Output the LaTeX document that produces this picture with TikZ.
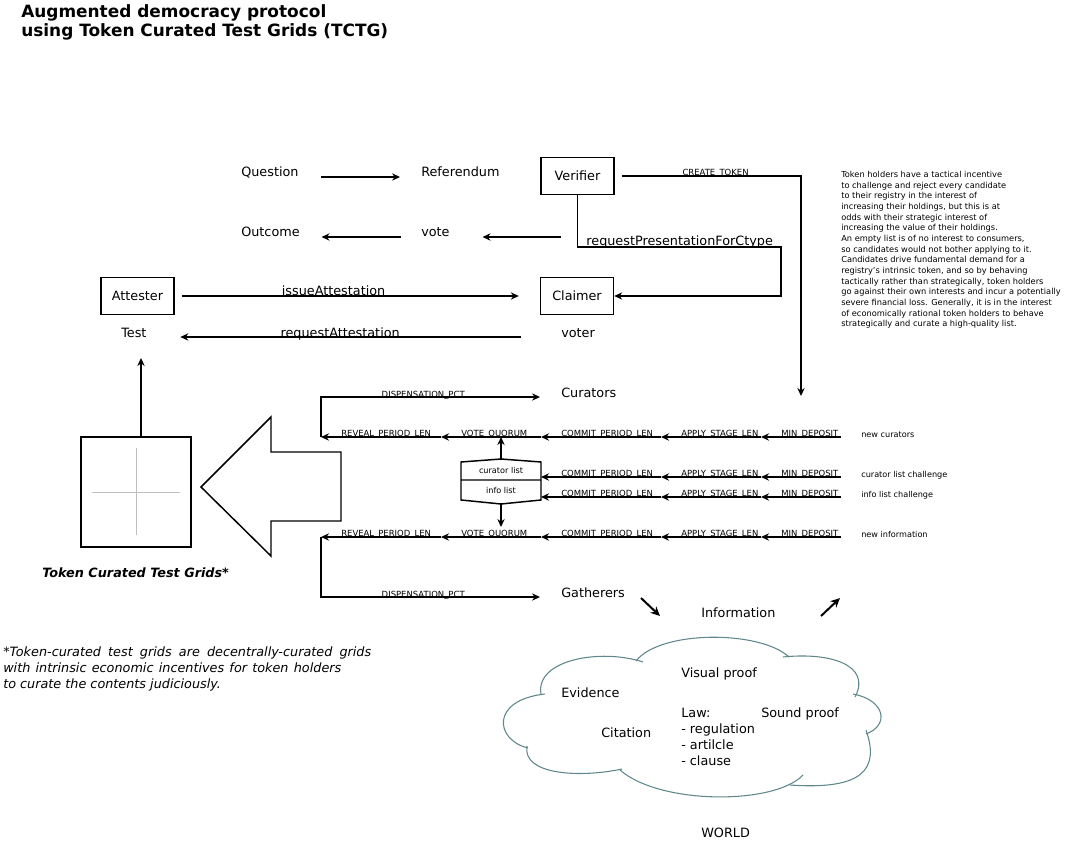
\documentclass[tikz,border=0pt]{standalone}
\usepackage{fontspec}
\setmainfont{DejaVu Sans}
\usetikzlibrary{arrows.meta}

\definecolor{cloudline}{RGB}{95,135,140}

\tikzset{
  lbl/.style={inner sep=0pt, font=\fontsize{9.6}{12}\selectfont},
  param/.style={inner sep=0pt, font=\fontsize{6.35}{7.5}\selectfont},
  note/.style={inner sep=0pt, font=\fontsize{6.1}{8}\selectfont},
  actor/.style={draw, line width=1.1pt, lbl, minimum width=54.75pt, minimum height=27.75pt},
  wire/.style={line width=1.1pt},
  arr/.style={line width=1.1pt, -{Stealth[length=6pt,width=5.5pt,inset=2pt]}},
  bigarr/.style={line width=1.5pt, -{Stealth[length=7pt,width=6.5pt,inset=2.2pt]}},
  gridline/.style={line width=0.6pt, black!25}
}

\begin{document}
\begin{tikzpicture}[x=0.75pt, y=-0.75pt]
  \useasboundingbox (0,0) rectangle (1069,841);

  \node[anchor=north west, inner sep=0pt, align=left, font=\fontsize{12.7}{14.25}\selectfont\bfseries] (title) at (21,4.5)
    {Augmented democracy protocol\\using Token Curated Test Grids (TCTG)};

  % actors and referendum
  \node[lbl, anchor=base west] (question) at (241,177) {Question};
  \node[lbl, anchor=base west] (referendum) at (421,177) {Referendum};
  \node[actor] (verifier) at (577.5,176) {Verifier};
  \node[lbl, anchor=base west] (outcome) at (241,237) {Outcome};
  \node[lbl, anchor=base west] (vote) at (421,237) {vote};
  \node[actor] (attester) at (137.5,296) {Attester};
  \node[actor] (claimer) at (577,296) {Claimer};
  \node[lbl, anchor=base west] (test) at (121,337) {Test};
  \node[lbl, anchor=base west] (voter) at (561,337) {voter};

  \coordinate (votein) at (561,237);
  \coordinate (tokenend) at (801,396);
  \coordinate (ctypebend) at (781,247);
  \coordinate (testin) at (141,358);

  \draw[arr, shorten <=17pt, shorten >=15.75pt] (question.base east) -- (referendum.base west);
  \draw[arr, shorten <=15pt, shorten >=16.2pt] (vote.base west) -- (outcome.base east);
  \draw[arr, shorten >=24.5pt] (votein) -- (vote.base east);
  \draw[arr, shorten <=5.25pt] (verifier.east) -| node[pos=0.18, param, anchor=base west] {CREATE\_TOKEN} (tokenend);
  \draw[arr] (verifier.south) |- node[pos=0.52, lbl, anchor=base west, yshift=0.75pt] {requestPresentationForCtype} (ctypebend)
    |- (claimer.east);
  \draw[arr, shorten <=5.25pt, shorten >=15.75pt] (attester.east) -- (claimer.west)
    node[pos=0.2916, lbl, anchor=base west] {issueAttestation};
  \draw[arr, shorten <=30pt, shorten >=25.2pt] (voter.base west) -- (test.base east)
    node[pos=0.6786, lbl, anchor=base west] {requestAttestation};

  % test grid
  \node[draw, line width=1.1pt, minimum size=82.5pt] (grid) at (136,492) {};
  \draw[gridline] (136,448) -- (136,535) (92,492) -- (180,492);
  \draw[arr] (grid.north -| testin) -- (testin);
  \node[lbl, anchor=base west, font=\fontsize{9.6}{12}\selectfont\bfseries\itshape] (gridname) at (42,577)
    {Token Curated Test Grids*};
  \draw[wire] (201,487) -- (271,417) -- (271,452) -- (341,452) -- (341,521) -- (271,521) -- (271,556) -- cycle;

  % curation parameters
  \foreach \row/\ry/\last in {1/437/5, 2/477/3, 3/497/3, 4/537/5} {
    \foreach \px [count=\i] in {841,761,661,541,441,321}
      \coordinate (r\row-\i) at (\px,\ry);
    \foreach \lab [count=\i] in {MIN\_DEPOSIT,APPLY\_STAGE\_LEN,COMMIT\_PERIOD\_LEN,VOTE\_QUORUM,REVEAL\_PERIOD\_LEN} {
      \ifnum\i>\last\else
        \pgfmathtruncatemacro\nxt{\i+1}
        \draw[arr] (r\row-\i) -- (r\row-\nxt);
        \path (r\row-\nxt) ++(20,-1) node[param, anchor=base west] {\lab};
      \fi
    }
  }
  \node[note, anchor=base west] (newcur) at (861,437) {new curators};
  \node[note, anchor=base west] (curchal) at (861,477) {curator list challenge};
  \node[note, anchor=base west] (infochal) at (861,497) {info list challenge};
  \node[note, anchor=base west] (newinfo) at (861,537) {new information};

  % lists
  \coordinate (listtop) at (501,459);
  \coordinate (listbot) at (501,504);
  \draw[wire] (461,462) -- (listtop) -- (541,462) -- (541,500) -- (listbot) -- (461,500) -- cycle
    (461,480) -- (541,480);
  \node[note] (curlist) at (501,470) {curator list};
  \node[note] (infolist) at (501,490) {info list};
  \draw[arr] (listtop) -- (listtop |- r1-4);
  \draw[arr, shorten >=7.5pt] (listbot) -- (listbot |- r4-4);

  \node[lbl, anchor=base west] (curators) at (561,397) {Curators};
  \node[lbl, anchor=base west] (gatherers) at (561,597) {Gatherers};
  \draw[arr, shorten >=15.75pt] (r1-6) |- node[pos=0.625, param, anchor=base west] {DISPENSATION\_PCT} (curators.base west);
  \draw[arr, shorten >=15.75pt] (r4-6) |- node[pos=0.625, param, anchor=base west] {DISPENSATION\_PCT} (gatherers.base west);

  % information
  \node[lbl, anchor=base west] (information) at (701,617) {Information};
  \coordinate (gin) at (641,598);
  \coordinate (gout) at (660,616);
  \coordinate (win) at (821,616);
  \coordinate (wout) at (840,598);
  \draw[bigarr] (gin) -- (gout);
  \draw[bigarr] (win) -- (wout);

  \node[note, anchor=north west, align=left, font=\fontsize{6.2}{8}\selectfont] (incentive) at (841,171)
    {Token holders have a tactical incentive\\
     to challenge and reject every candidate\\
     to their registry in the interest of\\
     increasing their holdings, but this is at\\
     odds with their strategic interest of\\
     increasing the value of their holdings.\\
     An empty list is of no interest to consumers,\\
     so candidates would not bother applying to it.\\
     Candidates drive fundamental demand for a\\
     registry's intrinsic token, and so by behaving\\
     tactically rather than strategically, token holders\\
     go against their own interests and incur a potentially\\
     severe financial loss. Generally, it is in the interest\\
     of economically rational token holders to behave\\
     strategically and curate a high-quality list.};

  \node[lbl, anchor=north west, align=left, font=\fontsize{9.6}{12}\selectfont\itshape] (footnote) at (3,647)
    {\makebox[276pt][s]{*Token-curated test grids are decentrally-curated grids}\\
     \makebox[253.5pt][s]{with intrinsic economic incentives for token holders}\\
     to curate the contents judiciously.};

  % world cloud
  \begin{scope}[color=cloudline, line width=0.8pt]
    \draw (541,694) .. controls (535,660) and (600,648) .. (643,662);
    \draw (636,661) .. controls (660,630) and (760,630) .. (789,657);
    \draw (783,657) .. controls (830,652) and (872,665) .. (855,697);
    \draw (853,694) .. controls (885,700) and (890,725) .. (866,734);
    \draw (866,730) .. controls (880,770) and (862,790) .. (790,785);
    \draw (803,775) .. controls (775,805) and (660,805) .. (620,770);
    \draw (622,769) .. controls (580,778) and (522,775) .. (527,746);
    \draw (528,748) .. controls (495,740) and (490,700) .. (545,694);
  \end{scope}
  \node[lbl, anchor=base west] (evidence) at (561,697) {Evidence};
  \node[lbl, anchor=base west] (visual) at (681,677) {Visual proof};
  \node[lbl, anchor=base west] (sound) at (761,717) {Sound proof};
  \node[lbl, anchor=base west] (citation) at (601,737) {Citation};
  \node[lbl, anchor=north west, align=left] (law) at (681,707.7) {Law:\\- regulation\\- artilcle\\- clause};
  \node[lbl, anchor=base west] (world) at (701,837) {WORLD};
\end{tikzpicture}
\end{document}
